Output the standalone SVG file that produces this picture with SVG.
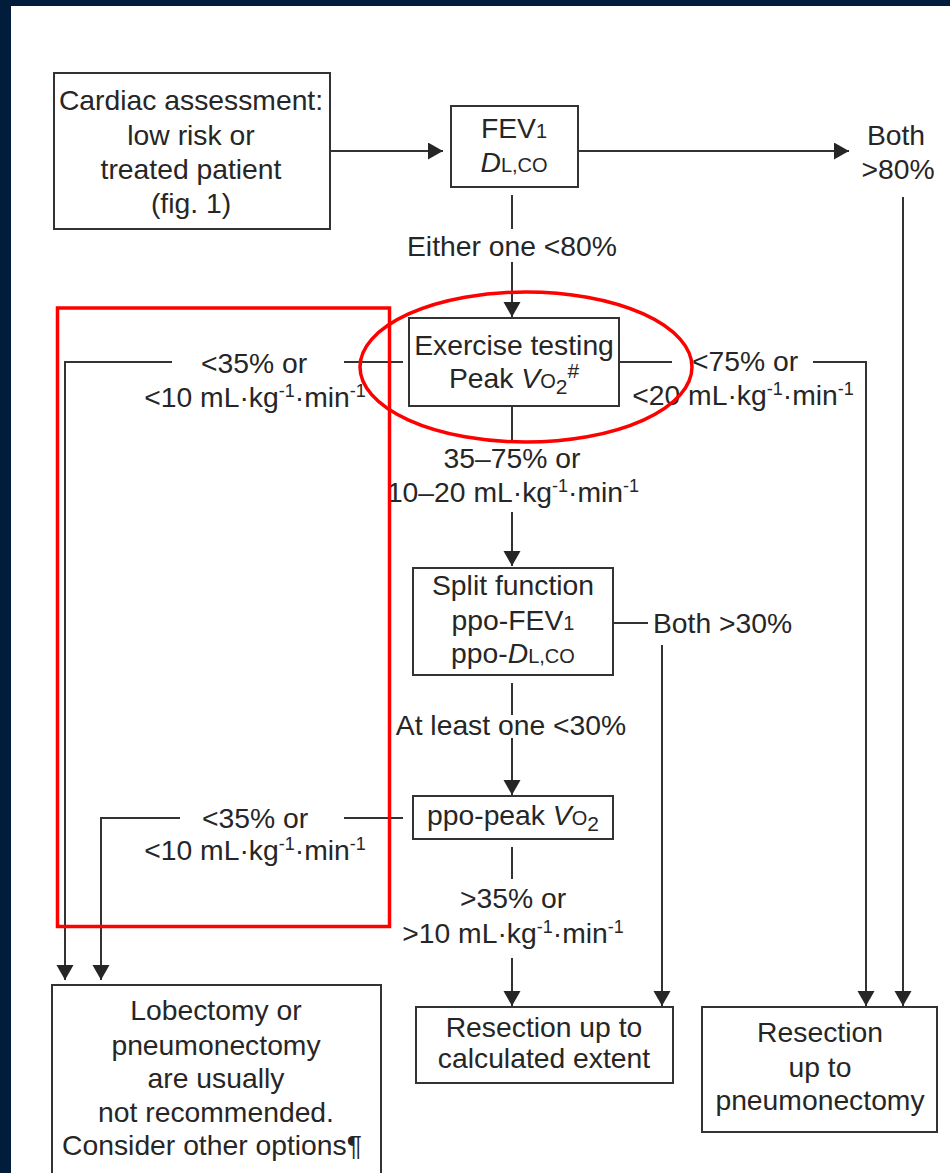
<svg xmlns="http://www.w3.org/2000/svg" width="950" height="1173" viewBox="0 0 950 1173">
<style>
.t{font-family:"Liberation Sans",Arial,Helvetica,sans-serif;font-size:28.3px;fill:#262626;text-anchor:middle}
.s{font-size:18px}
.m{font-size:20px}
.h{font-size:21px}
.i{font-style:italic}
.box{fill:#fff;stroke:#333;stroke-width:2}
.c{fill:none;stroke:#333;stroke-width:2}
.red{fill:none;stroke:#f00;stroke-width:3.5}
</style>
<defs>
<marker id="ah" markerUnits="userSpaceOnUse" markerWidth="16" markerHeight="18" refX="15" refY="8.5" orient="auto">
<path d="M0,0 L15,8.5 L0,17 z" fill="#262626"/>
</marker>
</defs>
<rect x="0" y="0" width="950" height="1173" fill="#fff"/>
<rect x="0" y="0" width="950" height="6" fill="#021d3b"/>
<rect x="0" y="0" width="11" height="1173" fill="#021d3b"/>

<g id="connectors">
<line class="c" x1="330" y1="151" x2="443" y2="151" marker-end="url(#ah)"/>
<line class="c" x1="578" y1="151" x2="849" y2="151" marker-end="url(#ah)"/>
<line class="c" x1="903" y1="197" x2="903" y2="1006" marker-end="url(#ah)"/>
<line class="c" x1="512" y1="195" x2="512" y2="229"/>
<line class="c" x1="512" y1="262" x2="512" y2="317" marker-end="url(#ah)"/>
<line class="c" x1="403" y1="362" x2="344" y2="362"/>
<path class="c" d="M172,362 H65 V980" marker-end="url(#ah)"/>
<line class="c" x1="619" y1="362" x2="672" y2="362"/>
<path class="c" d="M813,362 H866 V1006" marker-end="url(#ah)"/>
<line class="c" x1="512" y1="406" x2="512" y2="440"/>
<line class="c" x1="512" y1="512" x2="512" y2="566" marker-end="url(#ah)"/>
<line class="c" x1="613" y1="623" x2="648" y2="623"/>
<line class="c" x1="662" y1="645" x2="662" y2="1006" marker-end="url(#ah)"/>
<line class="c" x1="512" y1="683" x2="512" y2="715"/>
<line class="c" x1="512" y1="738" x2="512" y2="795" marker-end="url(#ah)"/>
<line class="c" x1="403" y1="818" x2="344" y2="818"/>
<path class="c" d="M180,818 H101 V980" marker-end="url(#ah)"/>
<line class="c" x1="512" y1="847" x2="512" y2="879"/>
<line class="c" x1="512" y1="958" x2="512" y2="1006" marker-end="url(#ah)"/>
</g>

<g id="labels">
<text class="t" x="512" y="256">Either one &lt;80%</text>
<text class="t" x="896" y="145">Both</text>
<text class="t" x="898" y="179">&gt;80%</text>
<text class="t" x="254" y="373">&lt;35% or</text>
<text class="t" x="255" y="407">&lt;10 mL·kg<tspan class="s" dy="-10">-1</tspan><tspan dy="10">·min</tspan><tspan class="s" dy="-10">-1</tspan></text>
<text class="t" x="745" y="371">&lt;75% or</text>
<text class="t" x="743" y="405">&lt;20 mL·kg<tspan class="s" dy="-10">-1</tspan><tspan dy="10">·min</tspan><tspan class="s" dy="-10">-1</tspan></text>
<text class="t" x="512" y="468">35–75% or</text>
<text class="t" x="513" y="502">10–20 mL·kg<tspan class="s" dy="-10">-1</tspan><tspan dy="10">·min</tspan><tspan class="s" dy="-10">-1</tspan></text>
<text class="t" x="653" y="633" style="text-anchor:start">Both &gt;30%</text>
<text class="t" x="511" y="735">At least one &lt;30%</text>
<text class="t" x="255" y="828">&lt;35% or</text>
<text class="t" x="255" y="860">&lt;10 mL·kg<tspan class="s" dy="-10">-1</tspan><tspan dy="10">·min</tspan><tspan class="s" dy="-10">-1</tspan></text>
<text class="t" x="513" y="908">&gt;35% or</text>
<text class="t" x="513" y="943">&gt;10 mL·kg<tspan class="s" dy="-10">-1</tspan><tspan dy="10">·min</tspan><tspan class="s" dy="-10">-1</tspan></text>
</g>

<g id="cardiac">
<rect class="box" x="54" y="73" width="276" height="156"/>
<text class="t" x="191" y="110">Cardiac assessment:</text>
<text class="t" x="191" y="145">low risk or</text>
<text class="t" x="191" y="179">treated patient</text>
<text class="t" x="191" y="213">(fig. 1)</text>
</g>

<g id="fev1">
<rect class="box" x="451" y="106" width="127" height="81"/>
<text class="t" x="514" y="138">FEV<tspan class="m">1</tspan></text>
<text class="t" x="514" y="172"><tspan class="i">D</tspan><tspan class="m">L,CO</tspan></text>
</g>

<g id="exercise">
<rect class="box" x="409" y="318" width="210" height="88"/>
<text class="t" x="514" y="355">Exercise testing</text>
<text class="t" x="514" y="388">Peak <tspan class="i">V</tspan><tspan class="m">O</tspan><tspan class="h" dy="6">2</tspan><tspan class="h" dy="-16">#</tspan></text>
</g>

<g id="split">
<rect class="box" x="413" y="568" width="200" height="107"/>
<text class="t" x="513" y="595">Split function</text>
<text class="t" x="513" y="630">ppo-FEV<tspan class="m">1</tspan></text>
<text class="t" x="513" y="663">ppo-<tspan class="i">D</tspan><tspan class="m">L,CO</tspan></text>
</g>

<g id="ppopeak">
<rect class="box" x="413" y="796" width="200" height="43"/>
<text class="t" x="513" y="825">ppo-peak <tspan class="i">V</tspan><tspan class="m">O</tspan><tspan class="h" dy="6">2</tspan></text>
</g>

<g id="resection-calc">
<rect class="box" x="416" y="1007" width="257" height="76"/>
<text class="t" x="544" y="1037">Resection up to</text>
<text class="t" x="544" y="1068">calculated extent</text>
</g>

<g id="resection-pneumo">
<rect class="box" x="702" y="1007" width="235" height="125"/>
<text class="t" x="820" y="1042">Resection</text>
<text class="t" x="820" y="1077">up to</text>
<text class="t" x="820" y="1110">pneumonectomy</text>
</g>

<g id="lobectomy">
<rect class="box" x="52" y="985" width="329" height="220"/>
<text class="t" x="216" y="1020">Lobectomy or</text>
<text class="t" x="216" y="1055">pneumonectomy</text>
<text class="t" x="216" y="1088">are usually</text>
<text class="t" x="216" y="1122">not recommended.</text>
<text class="t" x="212" y="1155">Consider other options¶</text>
</g>

<g id="highlights">
<rect class="red" x="57.5" y="308" width="332" height="618.5"/>
<ellipse class="red" cx="526" cy="367" rx="166" ry="75"/>
</g>
</svg>
